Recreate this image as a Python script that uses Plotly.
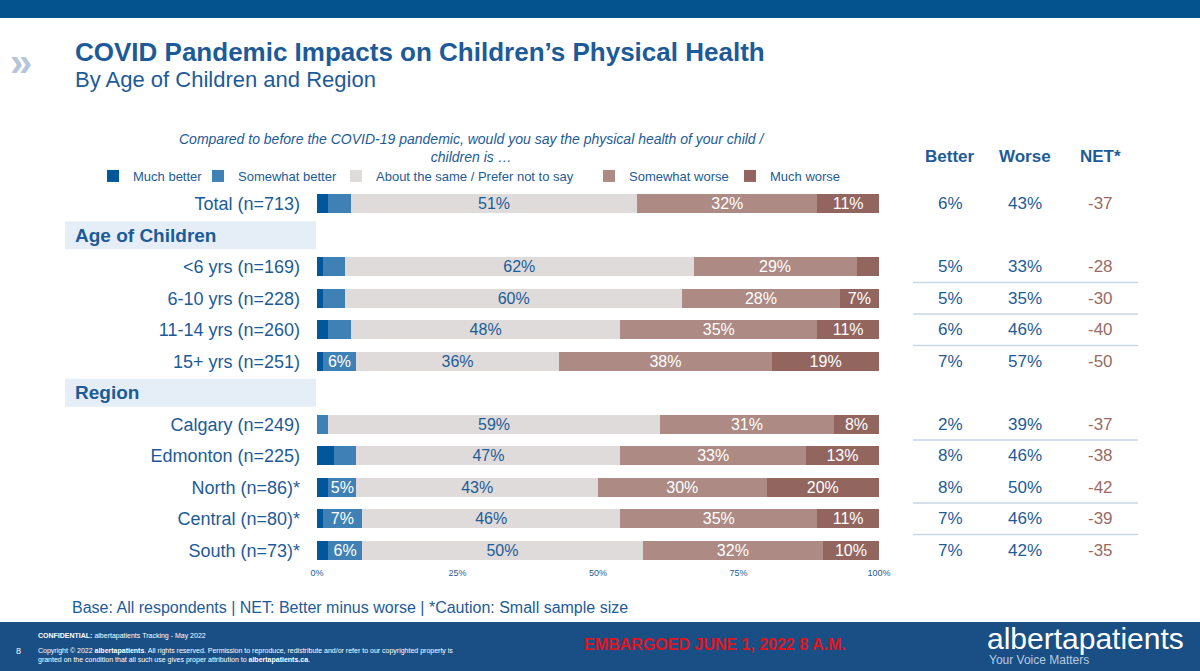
import plotly.graph_objects as go

categories = ["Total (n=713)", "<6 yrs (n=169)", "6-10 yrs (n=228)", "11-14 yrs (n=260)", "15+ yrs (n=251)",
              "Calgary (n=249)", "Edmonton (n=225)", "North (n=86)*", "Central (n=80)*", "South (n=73)*"]
group_of = ["", "Age of Children", "Age of Children", "Age of Children", "Age of Children",
            "Region", "Region", "Region", "Region", "Region"]
series_names = ["Much better", "Somewhat better", "About the same / Prefer not to say", "Somewhat worse", "Much worse"]
much_better = [2, 1, 1, 2, 1, 0, 3, 2, 1, 2]
somewhat_better = [4, 4, 4, 4, 6, 2, 4, 5, 7, 6]
about_same = [51, 62, 60, 48, 36, 59, 47, 43, 46, 50]
somewhat_worse = [32, 29, 28, 35, 38, 31, 33, 30, 35, 32]
much_worse = [11, 4, 7, 11, 19, 8, 13, 20, 11, 10]
better = ["6%", "5%", "5%", "6%", "7%", "2%", "8%", "8%", "7%", "7%"]
worse = ["43%", "33%", "35%", "46%", "57%", "39%", "46%", "50%", "46%", "42%"]
net = ["-37", "-28", "-30", "-40", "-50", "-37", "-38", "-42", "-39", "-35"]
x_ticks = [0, 25, 50, 75, 100]
x_ticktext = ["0%", "25%", "50%", "75%", "100%"]

BLUE = "#1d5b98"
FONT = "Liberation Sans"
colors = ["#00579b", "#3f81b5", "#dfdbdb", "#ad8a83", "#93655f"]
text_colors = ["white", "white", BLUE, "white", "white"]
legend_text_x = [133, 238, 376, 629, 770]

slots, headers, prev = [], [], None
s = 0
for g in group_of:
    if g != prev and g:
        headers.append((g, s)); s += 1
    slots.append(s); s += 1
    prev = g
nslots = s

L, R, T, B = 317, 879, 188, 566
W, H = 1200, 671
def px(x, y):
    return (x - L) / (R - L), (B - y) / (B - T)

fig = go.Figure()
legends = {}
for k, (name, vals, c, tc) in enumerate(zip(series_names, [much_better, somewhat_better, about_same, somewhat_worse, much_worse], colors, text_colors)):
    lg = "legend" if k == 0 else f"legend{k+1}"
    fig.add_trace(go.Bar(
        y=slots, x=vals, name=name, orientation="h", marker=dict(color=c, line=dict(width=0)),
        text=[f"{v}%" if v >= 5 else "" for v in vals], textposition="inside", insidetextanchor="middle",
        textfont=dict(color=tc, size=16, family=FONT), constraintext="none", width=0.6,
        hoverinfo="skip", legend=lg))
    legends[lg] = dict(orientation="h", xref="container", yref="container",
                       x=(legend_text_x[k] - 40) / W, y=1 - 176 / H, xanchor="left", yanchor="middle",
                       font=dict(size=13, color=BLUE), itemwidth=30, bgcolor="rgba(0,0,0,0)")

shapes, ann = [], []
def rect(x0, y0, x1, y1, color):
    a0, b0 = px(x0, y0); a1, b1 = px(x1, y1)
    shapes.append(dict(type="rect", xref="paper", yref="paper", x0=a0, y0=b0, x1=a1, y1=b1,
                       fillcolor=color, line=dict(width=0), layer="below"))
def text(x, y, t, size, color=BLUE, xanchor="left", bold=False, italic=False):
    a, b = px(x, y)
    ann.append(dict(xref="paper", yref="paper", x=a, y=b, text=t, showarrow=False, xanchor=xanchor,
                    yanchor="middle", font=dict(size=size, color=color, family=FONT,
                    weight="bold" if bold else "normal", style="italic" if italic else "normal")))

def slot_y(sl):
    return T + (sl + 0.5) * (B - T) / nslots

rect(0, 0, W, 18, "#04538f")
rect(0, 622, W, H, "#1a4f85")
text(8, 62, "»", 40, "#b4c6d8", bold=True)
text(73, 52, "COVID Pandemic Impacts on Children’s Physical Health", 26, BLUE, bold=True)
text(73, 79, "By Age of Children and Region", 22, BLUE)
text(472, 148, "Compared to before the COVID-19 pandemic, would you say the physical health of your child /<br>children is …", 14, BLUE, xanchor="center", italic=True)
for g, sl in headers:
    y = slot_y(sl)
    rect(65, y - 14, 316, y + 14, "#e5eef6")
    text(73, y, g, 19, BLUE, bold=True)
for lbl, xx in [("Better", 950), ("Worse", 1025), ("NET*", 1100)]:
    text(xx, 156, lbl, 17, BLUE, xanchor="center", bold=True)
for i, sl in enumerate(slots):
    y = slot_y(sl)
    text(950, y, better[i], 17, BLUE, xanchor="center")
    text(1025, y, worse[i], 17, BLUE, xanchor="center")
    text(1100, y, net[i], 17, "#9a6b63", xanchor="center")
    if i + 1 < len(slots) and slots[i + 1] == sl + 1 and i not in (0, 6):
        a0, b0 = px(913, y + 15.7); a1, _ = px(1138, y + 15.7)
        shapes.append(dict(type="line", xref="paper", yref="paper", x0=a0, x1=a1, y0=b0, y1=b0,
                           line=dict(color="#c9d6e6", width=1.5)))
text(70, 607, "Base: All respondents | NET: Better minus worse | *Caution: Small sample size", 16, BLUE)
text(14, 651, "8", 9, "white")
text(36, 636, "<b>CONFIDENTIAL:</b> albertapatients Tracking - May 2022", 7, "white")
ann.append(dict(xref="paper", yref="paper", x=px(36, 0)[0], y=px(0, 655)[1], text="Copyright © 2022 <b>albertapatients</b>. All rights reserved. Permission to reproduce, redistribute and/or refer to our copyrighted property is<br>granted on the condition that all such use gives proper attribution to <b>albertapatients.ca</b>.",
                showarrow=False, xanchor="left", yanchor="middle", align="left", font=dict(size=7, color="white", family=FONT)))
text(715, 644, "EMBARGOED JUNE 1, 2022 8 A.M.", 16, "#e0141e", xanchor="center", bold=True)
text(985, 638, "albertapatients", 30, "white")
text(987, 660, "Your Voice Matters", 12, "#b8cbe0")

fig.update_layout(
    width=W, height=H, barmode="stack", plot_bgcolor="white", paper_bgcolor="white",
    margin=dict(l=L, r=W - R, t=T, b=H - B, autoexpand=False), shapes=shapes, annotations=ann,
    font=dict(family=FONT, color=BLUE),
    xaxis=dict(range=[0, 100], tickvals=x_ticks, ticktext=x_ticktext, showgrid=False, zeroline=False,
               tickfont=dict(size=9, color=BLUE), fixedrange=True),
    yaxis=dict(range=[nslots - 0.5, -0.5], tickvals=slots, ticktext=categories, showgrid=False,
               zeroline=False, tickfont=dict(size=18, color=BLUE), ticklabelstandoff=16),
    showlegend=True, bargap=0.4, **legends,
)
fig.write_html("out.html", post_script="document.body.style.margin='0';",
               config={"displayModeBar": False})
